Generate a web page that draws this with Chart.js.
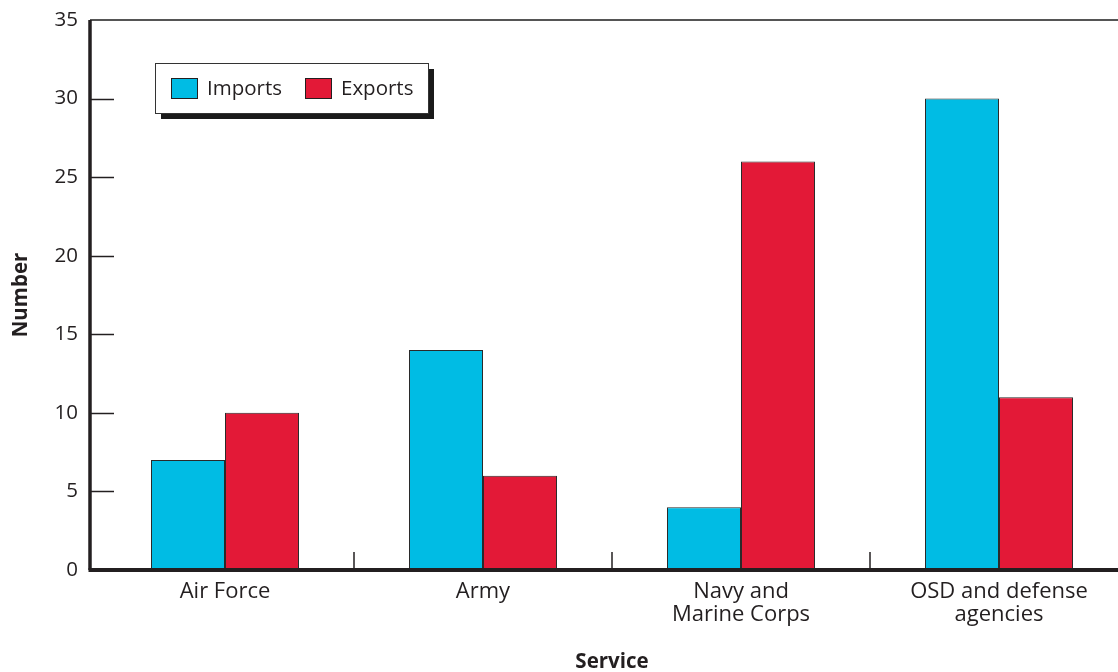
<!DOCTYPE html>
<html lang="en">
<head>
  <meta charset="UTF-8">
  <title>Imports and Exports by Service</title>
  <script src="https://cdn.jsdelivr.net/npm/chart.js"></script>
  <style>
    * { box-sizing: border-box; margin: 0; padding: 0; }
    body { background: #fff; overflow: hidden; width: 1118px; height: 672px; }
    .wrap { position: relative; width: 1128px; height: 672px; }
  </style>
</head>
<body>

<div class="wrap">
  <canvas id="serviceChart"></canvas>
</div>

<script>
  const services = [['Air Force'], ['Army'], ['Navy and', 'Marine Corps'], ['OSD and defense', 'agencies']];
  const imports = [7, 14, 4, 30];
  const exports = [10, 6, 26, 11];
  const yTicks = [0, 5, 10, 15, 20, 25, 30, 35];

  const ink = '#231f20';
  const font = "'Open Sans', sans-serif";

  // axis lines, inward ticks and category separators
  const frame = {
    id: 'frame',
    afterDatasetsDraw(chart) {
      const { ctx, chartArea } = chart;
      const x = chart.scales.x, y = chart.scales.y;
      const axisX = chartArea.left - 6;
      ctx.save();
      ctx.strokeStyle = '#555';
      ctx.lineWidth = 2;
      ctx.beginPath();
      ctx.moveTo(axisX, chartArea.top);
      ctx.lineTo(chartArea.right, chartArea.top);
      ctx.stroke();

      ctx.strokeStyle = ink;
      ctx.lineWidth = 1.5;
      yTicks.slice(1, -1).forEach(v => {
        const py = Math.round(y.getPixelForValue(v)) + 0.5;
        ctx.beginPath();
        ctx.moveTo(axisX, py);
        ctx.lineTo(axisX + 24, py);
        ctx.stroke();
      });
      for (let i = 0; i < services.length - 1; i++) {
        const px = x.getPixelForValue(i + 0.5);
        ctx.beginPath();
        ctx.moveTo(px, chartArea.bottom);
        ctx.lineTo(px, chartArea.bottom - 18);
        ctx.stroke();
      }

      ctx.lineWidth = 3.5;
      ctx.beginPath();
      ctx.moveTo(axisX, chartArea.top);
      ctx.lineTo(axisX, chartArea.bottom);
      ctx.stroke();
      ctx.lineWidth = 4;
      ctx.beginPath();
      ctx.moveTo(axisX - 1.5, chartArea.bottom);
      ctx.lineTo(chartArea.right, chartArea.bottom);
      ctx.stroke();
      ctx.restore();
    }
  };

  // boxed legend with a drop shadow
  const boxLegend = {
    id: 'boxLegend',
    afterDraw(chart) {
      const { ctx } = chart;
      const bx = 155, by = 63, bw = 273, bh = 50;
      ctx.save();
      ctx.fillStyle = '#1a1a1a';
      ctx.fillRect(bx + 6, by + 6, bw, bh);
      ctx.fillStyle = '#fff';
      ctx.fillRect(bx, by, bw, bh);
      ctx.strokeStyle = '#333';
      ctx.lineWidth = 1;
      ctx.strokeRect(bx + 0.5, by + 0.5, bw, bh);

      ctx.font = '20.5px ' + font;
      ctx.textBaseline = 'middle';
      let sx = 171;
      chart.data.datasets.forEach(ds => {
        ctx.fillStyle = ds.backgroundColor;
        ctx.fillRect(sx, 78, 26, 20);
        ctx.strokeStyle = ink;
        ctx.strokeRect(sx + 0.5, 78.5, 26, 20);
        ctx.fillStyle = ink;
        ctx.fillText(ds.label, sx + 36, 89);
        sx += 134;
      });
      ctx.restore();
    }
  };

  new Chart(document.getElementById('serviceChart'), {
    type: 'bar',
    data: {
      labels: services,
      datasets: [
        { label: 'Imports', data: imports, backgroundColor: '#00bce4' },
        { label: 'Exports', data: exports, backgroundColor: '#e31937' }
      ]
    },
    options: {
      responsive: true,
      maintainAspectRatio: false,
      animation: false,
      layout: { padding: { top: 20, right: 0, left: 0, bottom: 0 } },
      datasets: {
        bar: {
          borderColor: '#2a2a2a',
          borderWidth: 1,
          categoryPercentage: 0.5736,
          barPercentage: 1
        }
      },
      plugins: {
        legend: { display: false },
        tooltip: { enabled: false }
      },
      scales: {
        x: {
          grid: { display: false, drawTicks: false },
          border: { display: false },
          ticks: { color: ink, padding: 10, font: { family: font, size: 22, lineHeight: 1.05 } },
          title: {
            display: true, text: 'Service', color: ink,
            padding: { top: 0, bottom: -2 },
            font: { family: font, size: 20.5, weight: 'bold' }
          },
          afterFit(scale) { scale.height = 102; }
        },
        y: {
          min: 0,
          max: 35,
          grid: { display: false, drawTicks: false },
          border: { display: false },
          ticks: { stepSize: 5, color: ink, padding: 18, font: { family: font, size: 20.5 } },
          title: {
            display: true, text: 'Number', color: ink,
            padding: { top: 9, bottom: 0 },
            font: { family: font, size: 20.5, weight: 'bold' }
          },
          afterFit(scale) {
            scale.width = 96;
            scale.paddingTop = 0;
            scale.paddingBottom = 0;
          }
        }
      }
    },
    plugins: [frame, boxLegend]
  });
</script>

</body>
</html>
